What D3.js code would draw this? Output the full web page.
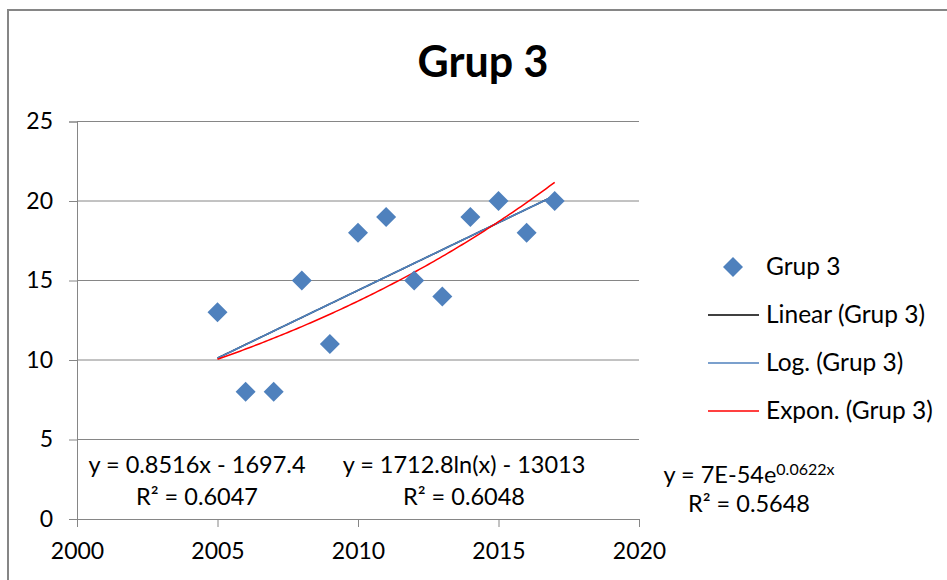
<!DOCTYPE html>
<html>
<head>
<meta charset="utf-8">
<script src="https://cdn.jsdelivr.net/npm/d3@7"></script>
<style>
  body { margin: 0; background: #fff; }
  text { font-family: Lato, "Open Sans", sans-serif; fill: #000; }
</style>
</head>
<body>
<div id="wrapper"></div>
<script>
// data
const years = [2005, 2006, 2007, 2008, 2009, 2010, 2011, 2012, 2013, 2014, 2015, 2016, 2017];
const values = [13, 8, 8, 15, 11, 18, 19, 15, 14, 19, 20, 18, 20];
const xTicks = [2000, 2005, 2010, 2015, 2020];
const yTicks = [0, 5, 10, 15, 20, 25];
const legendLabels = ["Grup 3", "Linear (Grup 3)", "Log. (Grup 3)", "Expon. (Grup 3)"];
const eqLinear = ["y = 0.8516x - 1697.4", "R² = 0.6047"];
const eqLog = ["y = 1712.8ln(x) - 13013", "R² = 0.6048"];
const eqExp = ["y = 7E-54e", "0.0622x", "R² = 0.5648"];

const blue = "#4f81bd";
const gridColor = "#868686";

const dimension = {
    width: 947,
    height: 580,
    margin: { top: 121.5, left: 77, bottom: 61, right: 308 }
};
dimension.boundedWidth = dimension.width - dimension.margin.left - dimension.margin.right;
dimension.boundedHeight = dimension.height - dimension.margin.top - dimension.margin.bottom;

const svg = d3.select("#wrapper").append("svg")
    .attr("width", dimension.width)
    .attr("height", dimension.height);

// chart border
svg.append("rect")
    .attr("x", 8).attr("y", 10)
    .attr("width", 960).attr("height", 600)
    .attr("fill", "none")
    .attr("stroke", gridColor)
    .attr("stroke-width", 2);

const bounded = svg.append("g")
    .attr("transform", `translate(${dimension.margin.left},${dimension.margin.top})`);

const xScaler = d3.scaleLinear().domain([2000, 2020]).range([0, dimension.boundedWidth]);
const yScaler = d3.scaleLinear().domain([0, 25]).range([dimension.boundedHeight, 0]);

// gridlines
bounded.append("g")
    .selectAll("line")
    .data(yTicks.filter(d => d > 0))
    .join("line")
    .attr("x1", 0).attr("x2", dimension.boundedWidth)
    .attr("y1", d => yScaler(d)).attr("y2", d => yScaler(d))
    .attr("stroke", gridColor);

// axes
const xAxis = d3.axisBottom(xScaler).tickValues(xTicks).tickFormat(d3.format("d")).tickSize(8).tickPadding(16);
const yAxis = d3.axisLeft(yScaler).tickValues(yTicks).tickSize(8).tickPadding(16);

const gx = bounded.append("g")
    .attr("transform", `translate(0,${dimension.boundedHeight})`)
    .call(xAxis);
const gy = bounded.append("g").call(yAxis);

[gx, gy].forEach(g => {
    g.select(".domain").attr("stroke", gridColor);
    g.selectAll(".tick line").attr("stroke", gridColor);
    g.selectAll("text").style("font-family", "Lato").style("font-size", "23px").attr("fill", "#000");
});

// trendlines fitted from the data
const n = years.length;
function fit(xs, ys) {
    const mx = d3.mean(xs), my = d3.mean(ys);
    const b = d3.sum(xs, (x, i) => (x - mx) * (ys[i] - my)) / d3.sum(xs, x => (x - mx) ** 2);
    return { b, a: my - b * mx };
}
const lin = fit(years, values);
const lg = fit(years.map(Math.log), values);
const ex = fit(years, values.map(Math.log));

const xs = d3.range(years[0], years[n - 1] + 0.001, 0.1);
const lineGen = d3.line().x(d => xScaler(d[0])).y(d => yScaler(d[1]));

bounded.append("path")
    .attr("d", lineGen(xs.map(x => [x, lin.a + lin.b * x])))
    .attr("fill", "none").attr("stroke", "#000").attr("stroke-width", 1.5);
bounded.append("path")
    .attr("d", lineGen(xs.map(x => [x, lg.a + lg.b * Math.log(x)])))
    .attr("fill", "none").attr("stroke", blue).attr("stroke-width", 1.75);
bounded.append("path")
    .attr("d", lineGen(xs.map(x => [x, Math.exp(ex.a + ex.b * x)])))
    .attr("fill", "none").attr("stroke", "#ff0000").attr("stroke-width", 1.5);

// points
const diamond = "M0,-10L10,0L0,10L-10,0Z";
bounded.append("g")
    .selectAll("path")
    .data(years)
    .join("path")
    .attr("d", diamond)
    .attr("transform", (d, i) => `translate(${xScaler(d)},${yScaler(values[i])})`)
    .attr("fill", blue);

// title
svg.append("text")
    .attr("x", 483).attr("y", 77)
    .attr("text-anchor", "middle")
    .style("font-weight", "bold")
    .style("font-size", "43px")
    .text("Grup 3");

// equations
const eqSize = "23.5px";
function eq(lines, cx, y) {
    lines.forEach((t, i) => {
        svg.append("text")
            .attr("x", cx).attr("y", y + i * 32)
            .attr("text-anchor", "middle")
            .style("font-size", eqSize)
            .text(t);
    });
}
eq(eqLinear, 197, 473);
eq(eqLog, 464, 473);

const expText = svg.append("text")
    .attr("x", 749).attr("y", 483)
    .attr("text-anchor", "middle")
    .style("font-size", eqSize);
expText.append("tspan").text(eqExp[0]);
expText.append("tspan").attr("dy", -8).style("font-size", "16px").text(eqExp[1]);
svg.append("text")
    .attr("x", 749).attr("y", 512)
    .attr("text-anchor", "middle")
    .style("font-size", eqSize)
    .text(eqExp[2]);

// legend
const legend = svg.append("g").attr("transform", "translate(708,267)");
const lineColors = [null, "#000", blue, "#ff0000"];
legendLabels.forEach((label, i) => {
    const y = i * 48;
    if (i === 0) {
        legend.append("path").attr("d", diamond).attr("transform", `translate(25,${y})`).attr("fill", blue);
    } else {
        legend.append("line")
            .attr("x1", 0).attr("x2", 51).attr("y1", y).attr("y2", y)
            .attr("stroke", lineColors[i]).attr("stroke-width", 1.5);
    }
    legend.append("text")
        .attr("x", 58).attr("y", y + 8)
        .style("font-size", "24.5px")
        .text(label);
});
</script>
</body>
</html>
